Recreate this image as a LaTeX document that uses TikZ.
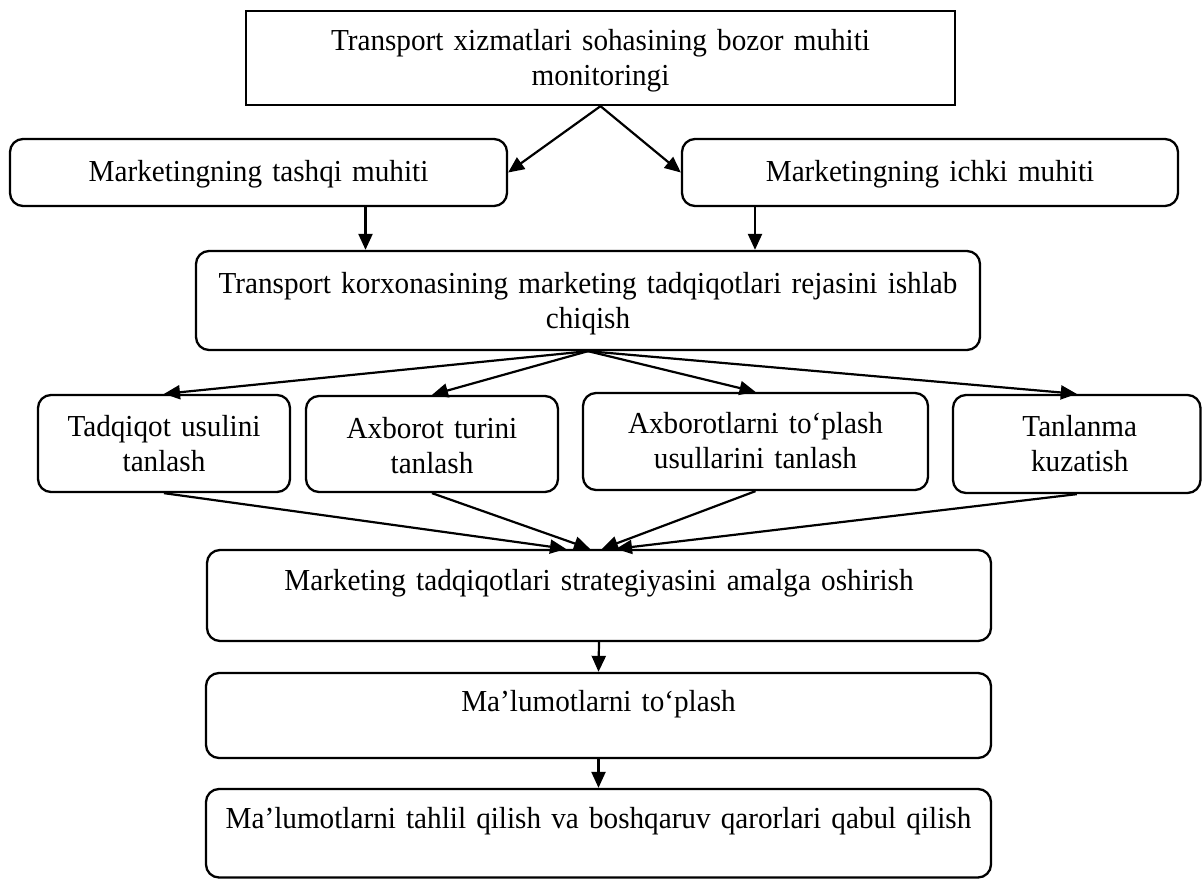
\documentclass[tikz,border=0pt]{standalone}
\usepackage{fontspec}
\setmainfont{Liberation Serif}[FakeStretch=0.957]
\usetikzlibrary{arrows.meta,calc}

\newcommand{\boxfont}{\fontsize{30.5}{34.5}\selectfont}

\tikzset{
  frame/.style={draw, line width=2.3pt, inner sep=0pt},
  rbox/.style={frame, rounded corners=13pt},
  label text/.style={font=\boxfont, align=center, inner sep=0pt, text width=#1, anchor=base},
  arr/.style={line width=2.2pt, -{Triangle[length=16pt,width=14pt]}},
}

\begin{document}
\begin{tikzpicture}[x=1pt, y=-1pt]
  \path[use as bounding box, fill=white] (0,0) rectangle (1202,879);

  % ---- boxes ----
  \node[frame, minimum width=709pt, minimum height=94pt] (top) at (600.5,58) {};
  \node[rbox, minimum width=497pt, minimum height=67pt] (tashqi) at (258.5,172.5) {};
  \node[rbox, minimum width=496pt, minimum height=67pt] (ichki) at (930,172.5) {};
  \node[rbox, minimum width=784pt, minimum height=99pt] (plan) at (588,300.5) {};
  \node[rbox, minimum width=252pt, minimum height=97pt] (t1) at (164,443.5) {};
  \node[rbox, minimum width=252pt, minimum height=96pt] (t2) at (432,444) {};
  \node[rbox, minimum width=345pt, minimum height=97pt] (t3) at (755.5,441.5) {};
  \node[rbox, minimum width=247.5pt, minimum height=98pt] (t4) at (1076.75,444) {};
  \node[rbox, minimum width=784pt, minimum height=91pt] (strat) at (599,595.5) {};
  \node[rbox, minimum width=785pt, minimum height=85pt] (collect) at (598.5,715.5) {};
  \node[rbox, minimum width=785pt, minimum height=88.5pt] (analyse) at (598.5,833.25) {};

  % ---- texts ----
  \node[label text=700pt] (topT) at ($(top.north)+(0,41)$)
    {Transport xizmatlari sohasining bozor muhiti\\monitoringi};
  \node[label text=480pt] (tashqiT) at ($(tashqi.north)+(0,44)$) {Marketingning tashqi muhiti};
  \node[label text=480pt] (ichkiT) at ($(ichki.north)+(0,44)$) {Marketingning ichki muhiti};
  \node[label text=770pt] (planT) at ($(plan.north)+(0,44)$)
    {Transport korxonasining marketing tadqiqotlari rejasini ishlab\\chiqish};
  \node[label text=240pt] (t1T) at ($(t1.north)+(0,43)$) {Tadqiqot usulini\\tanlash};
  \node[label text=240pt] (t2T) at ($(t2.north)+(0,44)$) {Axborot turini\\tanlash};
  \node[label text=335pt] (t3T) at ($(t3.north)+(0,42)$) {Axborotlarni to‘plash\\usullarini tanlash};
  \node[label text=240pt] (t4T) at ($(t4.north)+(3,43)$) {Tanlanma\\kuzatish};
  \node[label text=770pt] (stratT) at ($(strat.north)+(0,42)$)
    {Marketing tadqiqotlari strategiyasini amalga oshirish};
  \node[label text=770pt] (collectT) at ($(collect.north)+(0,40)$) {Ma’lumotlarni to‘plash};
  \node[label text=770pt] (analyseT) at ($(analyse.north)+(0,41)$)
    {Ma’lumotlarni tahlil qilish va boshqaruv qarorlari qabul qilish};

  % ---- connectors ----
  \draw[arr] (top.south) -- (tashqi.east);
  \draw[arr] (top.south) -- (ichki.west);

  \coordinate (d1) at ($(tashqi.south)+(107,0)$);
  \coordinate (d2) at ($(ichki.south)+(-175,0)$);
  \draw[arr] (d1) -- (d1 |- plan.north);
  \draw[arr] (d2) -- (d2 |- plan.north);

  \draw[arr] (plan.south) -- (t1.north);
  \draw[arr] (plan.south) -- (t2.north);
  \draw[arr] (plan.south) -- (t3.north);
  \draw[arr] (plan.south) -- (t4.north);

  \draw[arr] (t1.south) -- ($(strat.north)+(-33,0)$);
  \draw[arr] (t2.south) -- ($(strat.north)+(-9,0)$);
  \draw[arr] (t3.south) -- ($(strat.north)+(3,0)$);
  \draw[arr] (t4.south) -- ($(strat.north)+(17,0)$);

  \draw[arr] (strat.south) -- (collect.north);
  \draw[arr] (collect.south) -- (analyse.north);
\end{tikzpicture}
\end{document}
